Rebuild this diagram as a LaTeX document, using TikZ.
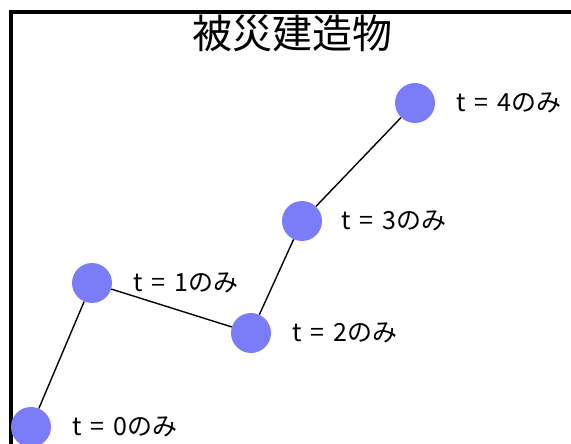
\documentclass[tikz,border=0pt]{standalone}
\usepackage{fontspec}
\usepackage{tikz}
\usetikzlibrary{positioning}
\newfontfamily\jpfont{Noto Sans CJK JP}
\newfontfamily\jplabel[WordSpace=1.6]{Noto Sans CJK JP}
\definecolor{dotblue}{RGB}{122,124,248}

\begin{document}
\begin{tikzpicture}[
    x=1pt, y=-1pt,
    node distance=21pt,
    dot/.style={circle, fill=dotblue, minimum size=40pt, inner sep=0pt},
    lbl/.style={inner sep=0pt, font=\jplabel\fontsize{25}{28}\selectfont},
    link/.style={line width=1.4pt}
  ]
    \clip (0,0) rectangle (571,444);
    \draw[line width=3.5pt] (11,460) -- (11,12) -- (590,12);
    \node[font=\jpfont\fontsize{40}{44}\selectfont, inner sep=0pt] (title) at (292,33) {被災建造物};

    \node[dot] (t0) at (31,427) {};
    \node[dot] (t1) at (92,283) {};
    \node[dot] (t2) at (251,333) {};
    \node[dot] (t3) at (302,221) {};
    \node[dot] (t4) at (415,103) {};

    \node[lbl, right=of t0] (l0) {t = 0のみ};
    \node[lbl, right=of t1] (l1) {t = 1のみ};
    \node[lbl, right=of t2] (l2) {t = 2のみ};
    \node[lbl, right=19pt of t3] (l3) {t = 3のみ};
    \node[lbl, right=of t4] (l4) {t = 4のみ};

    \draw[link] (t0) -- (t1);
    \draw[link] (t1) -- (t2);
    \draw[link] (t2) -- (t3);
    \draw[link] (t3) -- (t4);
  \end{tikzpicture}
\end{document}
